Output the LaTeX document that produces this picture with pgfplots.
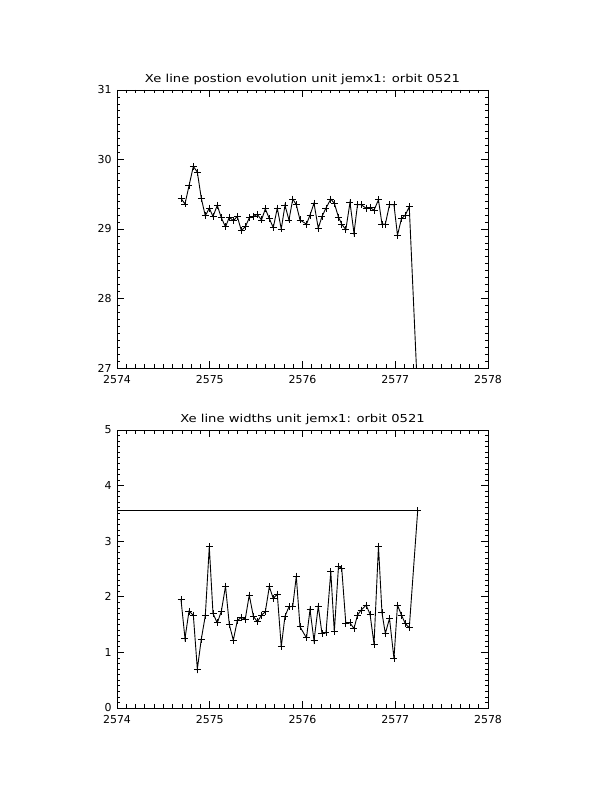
\documentclass[border=0pt]{standalone}
\usepackage{pgfplots}
\pgfplotsset{compat=1.18}
\usepackage{pgfplotstable}
\usepackage{fontspec}
\setmainfont{DejaVu Sans}
\newfontfamily\titlefont[FakeStretch=1.2]{DejaVu Sans}

\pgfplotstableread{
x pos wid
2574.690 29.44 1.95
2574.733 29.36 1.25
2574.776 29.62 1.74
2574.823 29.90 1.67
2574.866 29.82 0.70
2574.909 29.44 1.24
2574.952 29.19 1.66
2574.995 29.30 2.90
2575.035 29.18 1.70
2575.081 29.34 1.53
2575.125 29.16 1.74
2575.170 29.03 2.19
2575.211 29.17 1.50
2575.254 29.12 1.22
2575.297 29.18 1.57
2575.340 28.98 1.63
2575.383 29.03 1.60
2575.426 29.16 2.03
2575.470 29.18 1.65
2575.513 29.21 1.55
2575.558 29.13 1.67
2575.599 29.29 1.73
2575.642 29.15 2.18
2575.685 29.02 1.97
2575.728 29.30 2.05
2575.771 29.00 1.10
2575.811 29.34 1.65
2575.854 29.13 1.82
2575.895 29.43 1.83
2575.933 29.35 2.37
2575.973 29.13 1.46
2576.043 29.07 1.26
2576.081 29.20 1.77
2576.124 29.37 1.21
2576.170 29.01 1.83
2576.210 29.18 1.34
2576.253 29.30 1.35
2576.305 29.43 2.45
2576.343 29.37 1.37
2576.388 29.17 2.55
2576.423 29.07 2.51
2576.467 28.99 1.52
2576.512 29.38 1.53
2576.555 28.94 1.43
2576.593 29.35 1.67
2576.631 29.35 1.76
2576.685 29.30 1.85
2576.728 29.31 1.69
2576.771 29.27 1.15
2576.819 29.42 2.91
2576.857 29.07 1.71
2576.893 29.07 1.34
2576.938 29.35 1.61
2576.986 29.35 0.89
2577.024 28.91 1.85
2577.067 29.15 1.67
2577.108 29.20 1.52
2577.151 29.32 1.44
2577.242 26.60 3.552
2570.000 26.60 3.552
}\datatable

\begin{document}
\begin{tikzpicture}
\path[use as bounding box] (0bp,0bp) rectangle (612bp,792bp);
\pgfplotsset{
 idl/.style={
  scale only axis, width=371bp, height=278bp, anchor=south west,
  xmin=2574, xmax=2578, xtick={2574,2575,2576,2577,2578},
  minor x tick num=9, minor y tick num=9,
  tick align=inside, major tick length=7bp, minor tick length=3.5bp,
  axis line style={line width=0.8pt},
  every tick/.style={line width=0.7pt, black},
  tick label style={font=\fontsize{11}{13}\selectfont},
  xticklabel style={yshift=-4bp},
  yticklabel style={xshift=-2bp},
  /pgf/number format/assume math mode=true,
  /pgf/number format/1000 sep={},
  title style={font=\titlefont\fontsize{11}{13}\selectfont, at={(0.5,1)}, anchor=base, yshift=2bp},
  clip=true,
 }
}
\begin{axis}[idl, at={(117bp,424bp)}, ymin=27, ymax=31, ytick={27,28,29,30,31},
  title={Xe line postion evolution unit jemx1: orbit 0521}]
\addplot[black, line width=0.9bp, mark=+, mark size=3.5bp, mark options={line width=0.9bp}]
  table[x=x, y=pos] {\datatable};
\end{axis}
\begin{axis}[idl, at={(117bp,84bp)}, ymin=0, ymax=5, ytick={0,1,2,3,4,5},
  title={Xe line widths unit jemx1: orbit 0521}]
\addplot[black, line width=0.9bp, mark=+, mark size=3.5bp, mark options={line width=0.9bp}]
  table[x=x, y=wid] {\datatable};
\end{axis}
\end{tikzpicture}
\end{document}
